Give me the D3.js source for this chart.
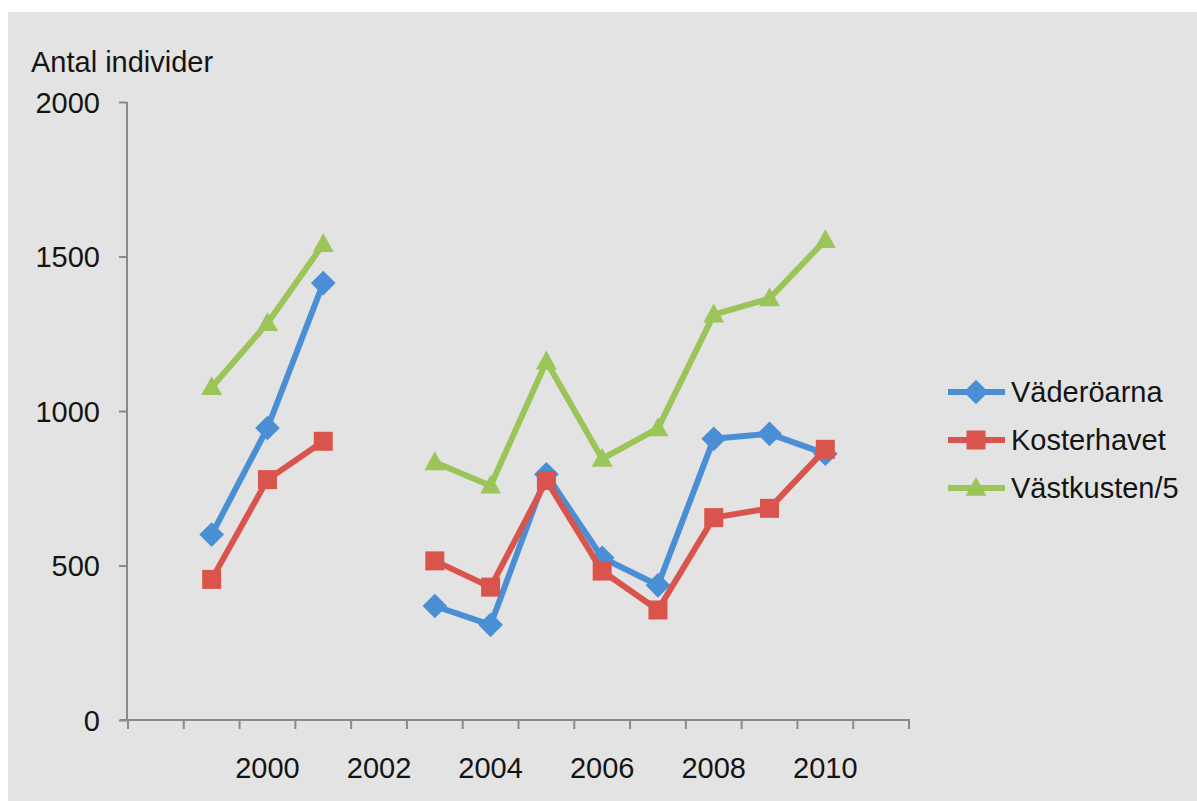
<!DOCTYPE html>
<html>
<head>
<meta charset="utf-8">
<script src="https://cdn.jsdelivr.net/npm/d3@7"></script>
<style>
  html, body { margin: 0; padding: 0; background: #ffffff; }
  svg { display: block; }
  text { font-family: "Liberation Sans", Arial, Helvetica, sans-serif; fill: #141414; }
</style>
</head>
<body>
<svg id="chart" width="1197" height="801"></svg>
<script>
// Years on the category axis (one band per year)
const years = [1998, 1999, 2000, 2001, 2002, 2003, 2004, 2005, 2006, 2007, 2008, 2009, 2010, 2011];
// Years that carry a label under the axis
const yearLabels = [2000, 2002, 2004, 2006, 2008, 2010];
// Value axis ticks
const yTicks = [0, 500, 1000, 1500, 2000];

// Counts per year (null = no survey)
const vaderoarna   = [null, 600, 945, 1414, null, 369, 308, 795, 525, 436, 910, 926, 862, null];
const kosterhavet  = [null, 455, 778, 902, null, 515, 430, 775, 482, 356, 655, 685, 876, null];
const vastkusten5  = [null, 1077, 1284, 1540, null, 834, 758, 1160, 845, 944, 1312, 1364, 1553, null];

const seriesNames  = ["Väderöarna", "Kosterhavet", "Västkusten/5"];
const seriesValues = [vaderoarna, kosterhavet, vastkusten5];
const seriesColors = ["#4a8fd6", "#d9544c", "#9bc459"];
const seriesShapes = ["diamond", "square", "triangle"];

const fontSize = "29px";

const svg = d3.select("#chart");

// Chart panel background
svg.append("rect")
  .attr("x", 8).attr("y", 12)
  .attr("width", 1197 - 8).attr("height", 801 - 12)
  .attr("fill", "#e3e3e3");

const plot = { left: 128, right: 909, top: 102, bottom: 720 };

const x = d3.scaleBand().domain(years).range([plot.left, plot.right]);
const y = d3.scaleLinear().domain([0, 2000]).range([plot.bottom, plot.top]);

const axisColor = "#8a8a8a";

// Y axis
const yAxisG = svg.append("g")
  .attr("transform", `translate(${plot.left - 1},0)`)
  .call(d3.axisLeft(y).tickValues(yTicks).tickSize(8).tickPadding(19).tickFormat(d3.format("d")));
yAxisG.select(".domain").attr("stroke", axisColor).attr("stroke-width", 2)
  .attr("d", `M0,${plot.top}V${plot.bottom}`);
yAxisG.selectAll(".tick line").attr("stroke", axisColor).attr("stroke-width", 2);
yAxisG.selectAll(".tick text")
  .style("font-size", fontSize).attr("dy", "0.36em").attr("fill", "#141414");

// X axis: tick marks on band boundaries, labels centered in bands
const xAxisG = svg.append("g").attr("transform", `translate(0,${plot.bottom})`);
xAxisG.append("line")
  .attr("x1", plot.left - 8).attr("x2", plot.right + 1)
  .attr("y1", 0).attr("y2", 0)
  .attr("stroke", axisColor).attr("stroke-width", 2);
const boundaries = years.map(d => x(d)).concat([x(years[years.length - 1]) + x.bandwidth()]);
xAxisG.selectAll("line.tick")
  .data(boundaries)
  .join("line")
  .attr("class", "tick")
  .attr("x1", d => d).attr("x2", d => d)
  .attr("y1", 0).attr("y2", 9)
  .attr("stroke", axisColor).attr("stroke-width", 2);
xAxisG.selectAll("text.label")
  .data(yearLabels)
  .join("text")
  .attr("class", "label")
  .attr("x", d => x(d) + x.bandwidth() / 2)
  .attr("y", 58)
  .attr("text-anchor", "middle")
  .style("font-size", fontSize)
  .text(d => d);

// Axis title
svg.append("text")
  .attr("x", 31).attr("y", 72)
  .style("font-size", fontSize)
  .text("Antal individer");

// Marker shapes
const symbolTypes = {
  diamond: { draw(ctx, size) { const r = Math.sqrt(size) / 2 * 1.3; ctx.moveTo(0, -r); ctx.lineTo(r, 0); ctx.lineTo(0, r); ctx.lineTo(-r, 0); ctx.closePath(); } },
  square:  { draw(ctx, size) { const r = Math.sqrt(size) / 2; ctx.rect(-r, -r, 2 * r, 2 * r); } },
  triangle:{ draw(ctx, size) { const r = Math.sqrt(size) / 2 * 1.1; ctx.moveTo(0, -r * 1.05); ctx.lineTo(r, r * 0.75); ctx.lineTo(-r, r * 0.75); ctx.closePath(); } }
};
const markerSize = 19 * 19;

const cx = d => x(d) + x.bandwidth() / 2;

const line = d3.line()
  .defined(d => d.v != null)
  .x(d => cx(d.year))
  .y(d => y(d.v));

seriesValues.forEach((vals, i) => {
  const pts = years.map((yr, j) => ({ year: yr, v: vals[j] }));
  const g = svg.append("g");
  g.append("path")
    .datum(pts)
    .attr("d", line)
    .attr("fill", "none")
    .attr("stroke", seriesColors[i])
    .attr("stroke-width", 6)
    .attr("stroke-linejoin", "round");
  g.selectAll("path.marker")
    .data(pts.filter(d => d.v != null))
    .join("path")
    .attr("class", "marker")
    .attr("transform", d => `translate(${cx(d.year)},${y(d.v)})`)
    .attr("d", d3.symbol().type(symbolTypes[seriesShapes[i]]).size(markerSize))
    .attr("fill", seriesColors[i]);
});

// Legend
const legend = svg.append("g").attr("transform", "translate(948,392)");
seriesNames.forEach((name, i) => {
  const row = legend.append("g").attr("transform", `translate(0,${i * 48})`);
  row.append("line")
    .attr("x1", 0).attr("x2", 57).attr("y1", 0).attr("y2", 0)
    .attr("stroke", seriesColors[i]).attr("stroke-width", 6);
  row.append("path")
    .attr("transform", "translate(28,0)")
    .attr("d", d3.symbol().type(symbolTypes[seriesShapes[i]]).size(markerSize))
    .attr("fill", seriesColors[i]);
  row.append("text")
    .attr("x", 63).attr("y", 0).attr("dy", "0.36em")
    .style("font-size", fontSize)
    .text(name);
});
</script>
</body>
</html>
